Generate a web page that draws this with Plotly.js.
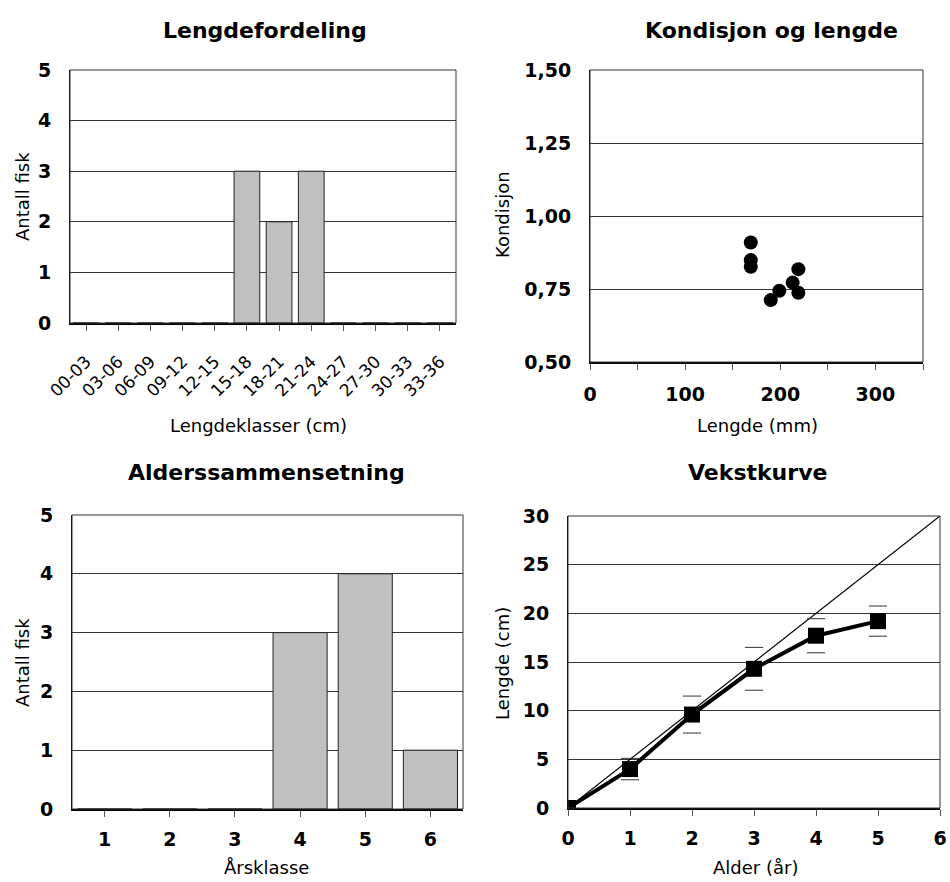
<!DOCTYPE html>
<html>
<head>
<meta charset="utf-8">
<script src="https://cdn.plot.ly/plotly-3.0.1.min.js"></script>
<style>html,body{margin:0;padding:0;background:#fff;}#chart{width:950px;height:882px;}</style>
</head>
<body>
<div id="chart"></div>
<script>
// ---- Data ----
var lengthClasses = ["00-03","03-06","06-09","09-12","12-15","15-18","18-21","21-24","24-27","27-30","30-33","33-36"];
var lengthCounts  = [0,0,0,0,0,3,2,3,0,0,0,0];

var fishLength    = [169, 169, 169, 190, 199, 213, 219, 219];      // mm
var fishCondition = [0.909, 0.849, 0.826, 0.712, 0.744, 0.772, 0.818, 0.737];

var yearClasses   = [1,2,3,4,5,6];
var ageCounts     = [0,0,0,3,4,1];

var ages          = [0,1,2,3,4,5];
var meanLength    = [0, 4.0, 9.6, 14.3, 17.7, 19.2];   // cm
var sdLength      = [null, 1.1, 1.9, 2.2, 1.75, 1.55];
var refAge        = [0, 6];
var refLength     = [0, 30];

// ---- helpers ----
var capX = [], capY = [];
for (var i = 0; i < ages.length; i++) {
  if (sdLength[i] !== null) {
    capX.push(ages[i]); capY.push(meanLength[i] + sdLength[i]);
    capX.push(ages[i]); capY.push(meanLength[i] - sdLength[i]);
  }
}

var FONT = "DejaVu Sans, Verdana, sans-serif";
var barColor = "#c0c0c0";

var traces = [
  {type:"bar", x:lengthClasses, y:lengthCounts, xaxis:"x", yaxis:"y", width:0.8,
   marker:{color:barColor, line:{color:"#222", width:1}}},
  {type:"scatter", mode:"markers", x:fishLength, y:fishCondition, xaxis:"x2", yaxis:"y2",
   marker:{color:"#000", size:14, symbol:"circle"}},
  {type:"bar", x:yearClasses, y:ageCounts, xaxis:"x3", yaxis:"y3", width:0.83,
   marker:{color:barColor, line:{color:"#222", width:1}}},
  {type:"scatter", mode:"lines", x:refAge, y:refLength, xaxis:"x4", yaxis:"y4",
   line:{color:"#000", width:1.2}},
  {type:"scatter", mode:"markers", x:capX, y:capY, xaxis:"x4", yaxis:"y4",
   marker:{symbol:"line-ew", size:13, line:{color:"#333", width:1}}},
  {type:"scatter", mode:"lines+markers", x:ages, y:meanLength, xaxis:"x4", yaxis:"y4",
   line:{color:"#000", width:4}, marker:{symbol:"square", size:16, color:"#000"}}
];

var tickBold = {family:FONT, size:19, color:"#000", weight:"bold"};
var tickReg  = {family:FONT, size:17, color:"#000"};

function yax(domain, range, dtick, fmt) {
  var a = {domain:domain, range:range, dtick:dtick, tick0:range[0], showgrid:true, gridcolor:"#333", gridwidth:1,
    zeroline:false, showline:true, linecolor:"#000", linewidth:1, ticks:"", ticklabelstandoff:14,
    tickfont:tickBold, fixedrange:true};
  if (fmt) a.tickformat = fmt;
  return a;
}
function xax(domain, extra) {
  var a = {domain:domain, showgrid:false, zeroline:false, showline:true, linecolor:"#000", linewidth:2,
    ticks:"outside", ticklen:6, tickcolor:"#555", tickwidth:1, tickfont:tickBold, fixedrange:true};
  for (var k in extra) a[k] = extra[k];
  return a;
}

var d = {
  tlx:[70/950, 456/950],  tly:[1-323/882, 1-70/882],
  trx:[590/950, 923/950], try_:[1-362/882, 1-70/882],
  blx:[72/950, 463/950],  bly:[1-809/882, 1-515/882],
  brx:[568/950, 940/950], bry:[1-808/882, 1-516/882]
};

function border(xr, yr) {
  return {type:"rect", xref:xr+" domain", yref:yr+" domain", x0:0, x1:1, y0:0, y1:1,
    line:{color:"#333", width:1}, layer:"above"};
}
function ann(text, x, y, size, bold, angle) {
  return {text:text, x:x/950, y:1-y/882, xref:"paper", yref:"paper", showarrow:false,
    xanchor:"center", yanchor:"middle", textangle:angle||0,
    font:{family:FONT, size:size, color:"#000", weight: bold ? "bold" : "normal"}};
}

var layout = {
  width:950, height:882, margin:{l:0, r:0, t:0, b:0},
  paper_bgcolor:"#fff", plot_bgcolor:"#fff", showlegend:false, separators:", ",
  font:{family:FONT, color:"#000"},
  xaxis:  xax(d.tlx, {anchor:"y", type:"category", range:[-0.5, 11.5], tickangle:-45, tickfont:tickReg, ticklabelstandoff:14}),
  yaxis:  yax(d.tly, [0,5], 1),
  xaxis2: xax(d.trx, {anchor:"y2", range:[0,350], dtick:100, ticklabelstandoff:8,
            minor:{dtick:50, ticks:"outside", ticklen:6, tickcolor:"#555"}}),
  yaxis2: yax(d.try_, [0.5,1.5], 0.25, ".2f"),
  xaxis3: xax(d.blx, {anchor:"y3", range:[0.5,6.5], dtick:1, ticklabelstandoff:6}),
  yaxis3: yax(d.bly, [0,5], 1),
  xaxis4: xax(d.brx, {anchor:"y4", range:[0,6], dtick:1, ticklabelstandoff:6}),
  yaxis4: yax(d.bry, [0,30], 5),
  shapes:[border("x","y"), border("x2","y2"), border("x3","y3"), border("x4","y4")],
  annotations:[
    ann("Lengdefordeling", 265, 30, 22, true),
    ann("Kondisjon og lengde", 771, 30, 22, true),
    ann("Alderssammensetning", 266, 472, 22, true),
    ann("Vekstkurve", 757, 472, 22, true),
    ann("Lengdeklasser (cm)", 258, 425, 18, false),
    ann("Lengde (mm)", 757, 425, 18, false),
    ann("Årsklasse", 266, 867, 18, false),
    ann("Alder (år)", 755, 867, 18, false),
    ann("Antall fisk", 22, 197, 18, false, -90),
    ann("Kondisjon", 502, 214, 18, false, -90),
    ann("Antall fisk", 22, 663, 18, false, -90),
    ann("Lengde (cm)", 502, 663, 18, false, -90)
  ]
};
layout.yaxis.anchor = "x";
layout.yaxis2.anchor = "x2";
layout.yaxis3.anchor = "x3";
layout.yaxis4.anchor = "x4";

Plotly.newPlot("chart", traces, layout, {displayModeBar:false, staticPlot:true});
</script>
</body>
</html>
